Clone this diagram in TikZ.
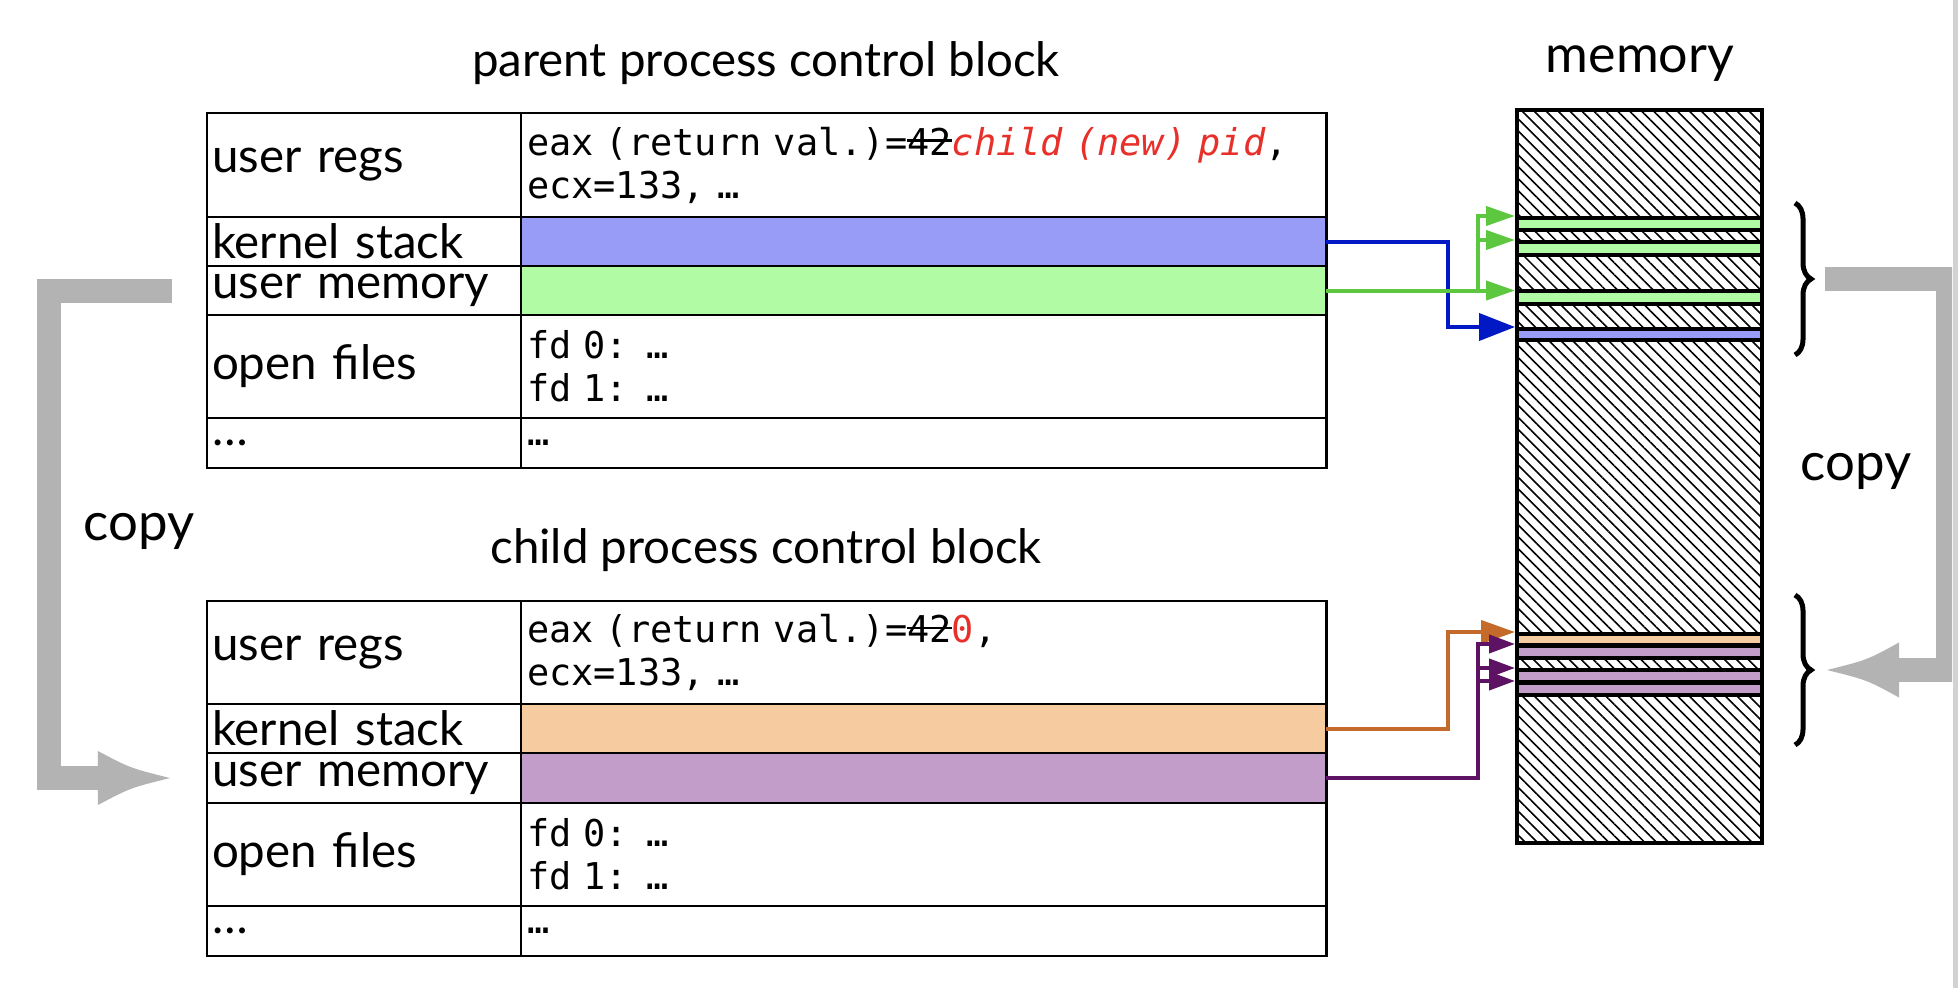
\documentclass[tikz,border=0pt]{standalone}
\usepackage{fontspec}
\setmainfont{Lato}
\setmonofont{DejaVu Sans Mono}[ItalicFont={DejaVu Sans Mono Oblique}]
\usepackage{xcolor}
\usetikzlibrary{arrows.meta, positioning, patterns.meta, decorations.pathreplacing}

\definecolor{ksblue}{RGB}{152,156,247}
\definecolor{umgreen}{RGB}{178,251,165}
\definecolor{ksorange}{RGB}{246,203,160}
\definecolor{umpurple}{RGB}{195,157,202}
\definecolor{lnblue}{RGB}{0,25,196}
\definecolor{lngreen}{RGB}{93,199,64}
\definecolor{lnorange}{RGB}{196,106,42}
\definecolor{lnpurple}{RGB}{94,18,99}
\definecolor{newred}{RGB}{232,48,42}
\definecolor{copygray}{RGB}{179,179,179}

\newsavebox\strikebox
\newcommand\struck[1]{\sbox\strikebox{#1}\rlap{\rule[0.36em]{\wd\strikebox}{0.07em}}\usebox\strikebox}

\begin{document}
\begin{tikzpicture}[x=0.01cm, y=-0.01cm,
    lcell/.style={draw, line width=0.6pt, outer sep=0pt, anchor=north west, minimum width=3.14cm,
                  text width=3.04cm, inner xsep=0.05cm, inner ysep=0pt, align=left,
                  font=\fontsize{13.5}{16}\selectfont},
    rcell/.style={draw, line width=0.6pt, outer sep=0pt, anchor=north west, minimum width=8.05cm,
                  text width=7.93cm, inner xsep=0.06cm, inner ysep=0pt, align=left,
                  font=\fontsize{10.5}{12.2}\selectfont\ttfamily},
    title/.style={inner sep=0pt, font=\fontsize{13.5}{16}\selectfont},
    copylbl/.style={inner sep=0pt, font=\fontsize{15}{18}\selectfont},
    strip/.style={draw, line width=0.04cm, outer sep=0.02cm, inner sep=0pt, anchor=north west,
                  minimum width=2.45cm},
    link/.style={line width=0.04cm},
    brace/.style={decorate, decoration={brace, amplitude=0.16cm}, line width=0.05cm},
    copybar/.style={copygray, line width=0.24cm, line join=miter},
]
\useasboundingbox (0,0) rectangle (1958,988);

% parent process control block
\node[title, anchor=base] (ptitle) at (766,77) {parent process control block};
\node[lcell, minimum height=1.04cm] (p-regs-l) at (207,113) {user regs};
\node[rcell, minimum height=1.04cm] (p-regs) at (521,113)
    {eax (return val.)=\struck{42}\textcolor{newred}{\itshape child (new) pid},\\ecx=133, …};
\node[lcell, minimum height=0.49cm] (p-ks-l) at (207,217) {kernel stack};
\node[rcell, minimum height=0.49cm, fill=ksblue] (p-ks) at (521,217) {};
\node[lcell, minimum height=0.49cm] (p-um-l) at (207,266) {user memory};
\node[rcell, minimum height=0.49cm, fill=umgreen] (p-um) at (521,266) {};
\node[lcell, minimum height=1.03cm] (p-files-l) at (207,315) {open files};
\node[rcell, minimum height=1.03cm] (p-files) at (521,315) {fd 0: …\\fd 1: …};
\node[lcell, minimum height=0.50cm] (p-etc-l) at (207,418) {…};
\node[rcell, minimum height=0.50cm] (p-etc) at (521,418) {…};

% child process control block
\node[title, anchor=base] (ctitle) at (766,563) {child process control block};
\node[lcell, minimum height=1.03cm] (c-regs-l) at (207,601) {user regs};
\node[rcell, minimum height=1.03cm] (c-regs) at (521,601)
    {eax (return val.)=\struck{42}\textcolor{newred}{0},\\ecx=133, …};
\node[lcell, minimum height=0.49cm] (c-ks-l) at (207,704) {kernel stack};
\node[rcell, minimum height=0.49cm, fill=ksorange] (c-ks) at (521,704) {};
\node[lcell, minimum height=0.50cm] (c-um-l) at (207,753) {user memory};
\node[rcell, minimum height=0.50cm, fill=umpurple] (c-um) at (521,753) {};
\node[lcell, minimum height=1.03cm] (c-files-l) at (207,803) {open files};
\node[rcell, minimum height=1.03cm] (c-files) at (521,803) {fd 0: …\\fd 1: …};
\node[lcell, minimum height=0.50cm] (c-etc-l) at (207,906) {…};
\node[rcell, minimum height=0.50cm] (c-etc) at (521,906) {…};

% memory
\node[inner sep=0pt, anchor=base, font=\fontsize{14.8}{18}\selectfont] (memtitle) at (1640,73) {memory};
\node[draw, line width=0.04cm, outer sep=0pt, inner sep=0pt, anchor=north west,
      minimum width=2.45cm, minimum height=7.33cm,
      pattern={Lines[angle=-45, distance=2.4pt, line width=0.45pt]}] (mem) at (1517,110) {};
\node[strip, fill=umgreen, minimum height=0.12cm] (m-um1) at (1515,216) {};
\node[strip, fill=umgreen, minimum height=0.13cm] (m-um2) at (1515,240) {};
\node[strip, fill=umgreen, minimum height=0.13cm] (m-um3) at (1515,289) {};
\node[strip, fill=ksblue, minimum height=0.11cm] (m-ks) at (1515,327) {};
\node[strip, fill=ksorange, minimum height=0.11cm] (m-cks) at (1515,632) {};
\node[strip, fill=umpurple, minimum height=0.12cm] (m-cm1) at (1515,644) {};
\node[strip, fill=umpurple, minimum height=0.12cm] (m-cm2) at (1515,668) {};
\node[strip, fill=umpurple, minimum height=0.12cm] (m-cm3) at (1515,681) {};

% where each part lives
\draw[link, lnblue, -{Triangle[length=0.36cm, width=0.27cm]}]
    (p-ks.east) -| ([xshift=-0.67cm]m-ks.north west) -- (m-ks.north west);
\draw[link, lngreen, -{Triangle[length=0.29cm, width=0.19cm]}] (p-um.east) -- (p-um.east -| m-um3.west);
\draw[link, lngreen, -{Triangle[length=0.29cm, width=0.19cm]}]
    ([xshift=-0.37cm]p-um.east -| m-um3.west) |- (m-um1.north west);
\draw[link, lngreen, -{Triangle[length=0.29cm, width=0.19cm]}]
    ([xshift=-0.37cm]m-um2.north west) -- (m-um2.north west);
\draw[link, lnorange, -{Triangle[length=0.34cm, width=0.23cm]}]
    (c-ks.east) -| ([xshift=-0.67cm]m-cks.north west) -- (m-cks.north west);
\draw[link, lnpurple, -{Triangle[length=0.26cm, width=0.18cm]}]
    (c-um.east) -| ([xshift=-0.37cm]m-cm1.north west) -- (m-cm1.north west);
\draw[link, lnpurple, -{Triangle[length=0.26cm, width=0.18cm]}]
    ([xshift=-0.37cm]m-cm2.north west) -- (m-cm2.north west);
\draw[link, lnpurple, -{Triangle[length=0.26cm, width=0.18cm]}]
    ([xshift=-0.37cm]m-cm3.north west) -- (m-cm3.north west);

\draw[brace] (1795,203) -- (1795,355);
\draw[brace] (1795,595) -- (1795,745);

% copy arrows
\node[copylbl, anchor=base west] (lcopy) at (83,540) {copy};
\node[copylbl, anchor=base west] (rcopy) at (1800,480) {copy};
\coordinate (lc-top) at ([xshift=-0.35cm]p-um-l.west);
\coordinate (lc-tip) at ([xshift=-0.37cm]c-um-l.west);
\draw[copybar] (lc-top) -- ++(-123,0) |- ([xshift=-0.70cm]lc-tip);
\fill[copygray] (lc-tip) .. controls ([shift={(-0.4cm,0.1cm)}]lc-tip) .. ([shift={(-0.72cm,0.27cm)}]lc-tip)
    -- ([shift={(-0.72cm,-0.27cm)}]lc-tip) .. controls ([shift={(-0.4cm,-0.1cm)}]lc-tip) .. (lc-tip) -- cycle;
\begin{scope}
\clip (0,0) rectangle (1952,988);
\coordinate (rc-top) at (1825,279);
\coordinate (rc-tip) at (1827,670);
\draw[copybar] (rc-top) -- ++(123,0) |- ([xshift=0.70cm]rc-tip);
\fill[copygray] (rc-tip) .. controls ([shift={(0.4cm,0.1cm)}]rc-tip) .. ([shift={(0.72cm,0.275cm)}]rc-tip)
    -- ([shift={(0.72cm,-0.275cm)}]rc-tip) .. controls ([shift={(0.4cm,-0.1cm)}]rc-tip) .. (rc-tip) -- cycle;
\end{scope}
\draw[gray!35, line width=0.05cm] (1955.5,0) -- (1955.5,988);
\end{tikzpicture}
\end{document}
